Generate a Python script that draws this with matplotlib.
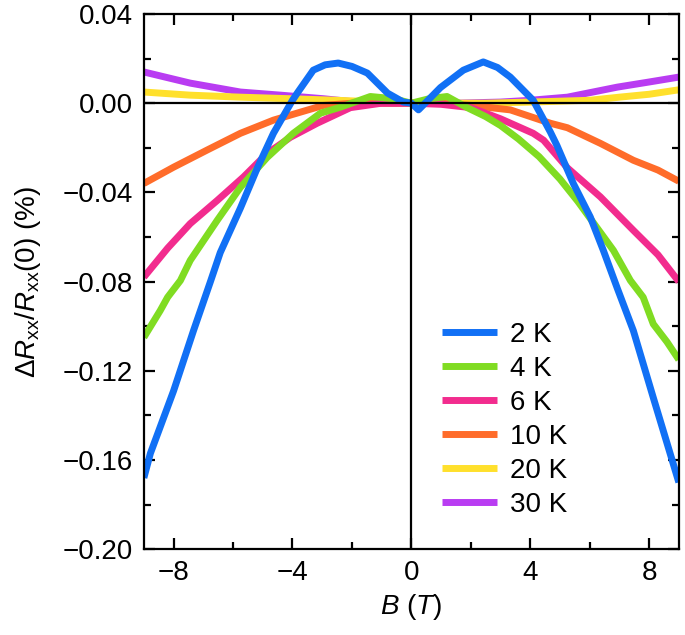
import numpy as np
import matplotlib
matplotlib.use('Agg')
import matplotlib.pyplot as plt
from matplotlib.ticker import MultipleLocator, FuncFormatter

plt.rcParams['font.family'] = ['Liberation Sans', 'DejaVu Sans']
plt.rcParams['mathtext.fontset'] = 'custom'
plt.rcParams['mathtext.rm'] = 'Liberation Sans'
plt.rcParams['mathtext.it'] = 'Liberation Sans:italic'

# ── Data ──────────────────────────────────────────────────────────────────────
b_2k = [-9, -8.78, -8, -7.33, -6.76, -6.43, -5.75, -5.18, -4.64, -4.0, -3.84, -3.3,
        -2.9, -2.46, -2.0, -1.48, -0.8, -0.27, 0, 0.24, 0.98, 1.75, 2.42, 2.9, 3.33,
        4.1, 4.68, 4.9, 5.45, 6.02, 6.46, 6.93, 7.47, 8.14, 9]
r_2k = [-0.168, -0.157, -0.129, -0.102, -0.080, -0.067, -0.047, -0.029, -0.0135, 0.0013,
        0.0045, 0.0148, 0.0172, 0.018, 0.0165, 0.0135, 0.0045, 0.0005, 0.0, -0.003, 0.007,
        0.0148, 0.0185, 0.016, 0.0117, 0.0013, -0.013, -0.019, -0.036, -0.051, -0.066,
        -0.083, -0.102, -0.132, -0.170]

b_4k = [-9, -8.45, -8.2, -7.77, -7.44, -6.53, -5.75, -4.85, -3.97, -3.06, -2.39, -1.38,
        -0.6, 0, 0.6, 1.2, 1.88, 2.5, 3.0, 3.6, 4.3, 5.0, 5.6, 6.2, 6.8, 7.37, 7.8, 8.14,
        8.6, 9]
r_4k = [-0.105, -0.093, -0.087, -0.0795, -0.0705, -0.0525, -0.0377, -0.0243, -0.0135,
        -0.0045, -0.0018, 0.0030, 0.002, 0.0, 0.002, 0.0030, -0.002, -0.006, -0.010,
        -0.016, -0.024, -0.034, -0.044, -0.055, -0.066, -0.0795, -0.087, -0.099, -0.107,
        -0.115]

b_6k = [-9, -8.2, -7.44, -6.53, -5.64, -4.85, -4.07, -3.17, -2.05, -1.0, 0, 1.0, 2.0,
        3.0, 4.1, 4.45, 5.25, 6.36, 7.47, 8.3, 9]
r_6k = [-0.078, -0.065, -0.054, -0.0436, -0.033, -0.0225, -0.0153, -0.009, -0.002, 0.0,
        0.0, -0.0005, -0.002, -0.007, -0.0135, -0.0166, -0.029, -0.042, -0.057, -0.068,
        -0.080]

b_10k = [-9, -8, -6.87, -5.75, -4.64, -3.5, -2.96, -2, -1, 0, 1, 2, 3.33, 4.68, 5.25,
         6.36, 7.47, 8.3, 9]
r_10k = [-0.036, -0.0287, -0.021, -0.0135, -0.0076, -0.0031, -0.001, 0.0, 0.0, 0.0, 0.0,
         -0.001, -0.003, -0.009, -0.011, -0.018, -0.0256, -0.030, -0.035]

b_20k = [-9, -7.44, -5.75, -4.07, -2.5, -1, 0, 1, 2.5, 4, 6, 7, 8, 9]
r_20k = [0.005, 0.0036, 0.0027, 0.002, 0.0013, 0.0005, 0.0, 0.0, 0.0, 0.0005, 0.0013,
         0.0027, 0.004, 0.006]

b_30k = [-9, -7.44, -5.75, -4.4, -2.96, -1.5, 0, 1.5, 3, 4, 5.25, 6.93, 8, 9]
r_30k = [0.014, 0.009, 0.005, 0.0036, 0.002, 0.0, 0.0, 0.0, 0.0005, 0.0013, 0.0027,
         0.0072, 0.0095, 0.0117]

labels = ['2 K', '4 K', '6 K', '10 K', '20 K', '30 K']
colors = ['#1170f5', '#80dc22', '#f22c8e', '#ff6c2a', '#ffe02c', '#b93cf2']
fields = [b_2k, b_4k, b_6k, b_10k, b_20k, b_30k]
values = [r_2k, r_4k, r_6k, r_10k, r_20k, r_30k]


def minus_fmt(fmt):
    def f(v, pos):
        s = fmt % v
        if float(s) == 0:
            s = s.lstrip('-')
        return s.replace('-', '\u2212')
    return FuncFormatter(f)


# ── Plot ──────────────────────────────────────────────────────────────────────
fig = plt.figure(figsize=(6.85, 6.35), dpi=100)
ax = fig.add_axes([0.210, 0.135, 0.781, 0.843])

handles = [None] * len(labels)
for i in reversed(range(len(labels))):
    handles[i], = ax.plot(fields[i], values[i], color=colors[i], lw=5,
                          solid_capstyle='butt', solid_joinstyle='round',
                          label=labels[i])

ax.axhline(0, color='black', lw=1.6, zorder=5)
ax.axvline(0, color='black', lw=1.6, zorder=5)

ax.set_xlim(-9, 9)
ax.set_ylim(-0.20, 0.04)
ax.xaxis.set_major_locator(MultipleLocator(4))
ax.xaxis.set_minor_locator(MultipleLocator(2))
ax.yaxis.set_major_locator(MultipleLocator(0.04))
ax.yaxis.set_minor_locator(MultipleLocator(0.02))
ax.xaxis.set_major_formatter(minus_fmt('%d'))
ax.yaxis.set_major_formatter(minus_fmt('%.2f'))

ax.tick_params(which='both', direction='in', top=True, right=True, width=1.6,
               labelsize=20)
ax.tick_params(which='major', length=8, pad=8)
ax.tick_params(which='minor', length=5)
for s in ax.spines.values():
    s.set_linewidth(1.6)

ax.set_xlabel(r'$B$ ($T$)', fontsize=20, labelpad=4)
ax.set_ylabel(r'$\Delta R_{\rm xx}/R_{\rm xx}(0)$ (%)', fontsize=20, labelpad=14)

ax.legend(handles=handles, loc='upper left', bbox_to_anchor=(0.557, 0.425),
          frameon=False, fontsize=20, handlelength=2.0, handletextpad=0.45,
          labelspacing=0.29, borderpad=0, borderaxespad=0)

plt.savefig('out.png', dpi=100)
